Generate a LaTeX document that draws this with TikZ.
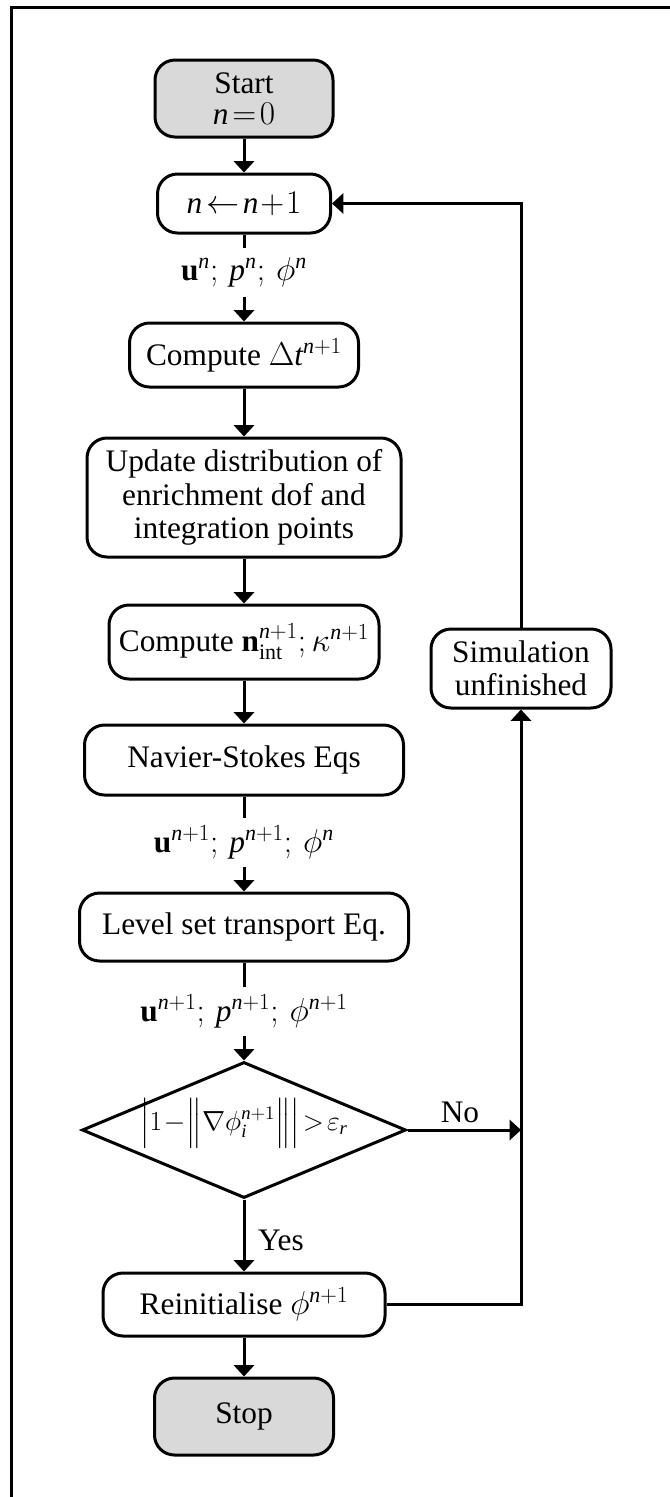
\documentclass[tikz,border=0pt]{standalone}
\usepackage{amsmath}
\usepackage{fontspec}
\setmainfont{Liberation Serif}
\usetikzlibrary{arrows.meta,shapes.geometric}
\definecolor{termgray}{RGB}{217,217,217}
% italic Latin letters in formulas, set in the text face
\newcommand{\iv}[1]{\textit{#1}}
% tighter spacing around math operators and relations
\medmuskip=1mu
\thickmuskip=2mu

\begin{document}
\begin{tikzpicture}[x=0.75pt,y=-0.75pt,
  every node/.style={font=\fontsize{23.5}{25}\selectfont},
  box/.style={draw, line width=2.25pt, rounded corners=15pt, align=center, inner sep=0pt},
  term/.style={box, fill=termgray},
  test/.style={draw, line width=2.25pt, shape=diamond, inner sep=0pt,
               minimum width=243pt, minimum height=102pt},
  flow/.style={line width=2.25pt, -{Triangle[width=15pt,length=8.5pt]}},
  link/.style={line width=2.25pt},
  vars/.style={inner sep=0pt, minimum height=37pt},
  tag/.style={inner sep=0pt},
]
\useasboundingbox (0,0) rectangle (670,1497);

% frame
\draw[line width=2.25pt] (672,7.5) -- (11.5,7.5) -- (11.5,1500);

% main column
\node[term, minimum width=133.5pt, minimum height=57.75pt] (start) at (244,98.5)
  {Start\\[-2pt] $\iv{n}=0$};
\node[box, minimum width=129.75pt, minimum height=44.25pt] (inc) at (244,203.5)
  {$\iv{n}\leftarrow \iv{n}+1$};
\node[vars] (v1) at (244,272.5)
  {$\mathbf{u}^{\iv{n}};\,\iv{p}^{\iv{n}};\,\phi^{\iv{n}}$};
\node[box, minimum width=171.75pt, minimum height=48pt] (dt) at (244,355)
  {Compute $\Delta \iv{t}^{\iv{n}+1}$};
\node[box, minimum width=235.5pt, minimum height=89.25pt] (upd) at (244,497.5)
  {Update distribution of\\ enrichment dof and\\ integration points};
\node[box, minimum width=202.5pt, minimum height=55.5pt] (nint) at (244,642)
  {Compute $\mathbf{n}_{\mathrm{int}}^{\iv{n}+1};\kappa^{\iv{n}+1}$};
\node[box, minimum width=239.25pt, minimum height=52.5pt] (ns) at (244,760)
  {Navier-Stokes Eqs};
\node[vars] (v2) at (244,842.5)
  {$\mathbf{u}^{\iv{n}+1};\,\iv{p}^{\iv{n}+1};\,\phi^{\iv{n}}$};
\node[box, minimum width=246.75pt, minimum height=51pt] (ls) at (244,927)
  {Level set transport Eq.};
\node[vars] (v3) at (244,1011.5)
  {$\mathbf{u}^{\iv{n}+1};\,\iv{p}^{\iv{n}+1};\,\phi^{\iv{n}+1}$};
% the test: the outline keeps its own size, the formula is centred inside it
\node[test] (dia) at (244,1130)
  {\makebox[0pt]{\smash{\fontsize{20}{22}\selectfont
   $\Bigl|1-\Bigl\|\nabla\phi_{\iv{i}}^{\iv{n}+1}\Bigr\|\Bigr|>\varepsilon_{\iv{r}}$}}};
\node[box, minimum width=211.5pt, minimum height=47.25pt] (rein) at (244,1304.5)
  {Reinitialise $\phi^{\iv{n}+1}$};
\node[term, minimum width=134.25pt, minimum height=57.75pt] (stop) at (244,1416.5)
  {Stop};

% loop-back column
\node[box, minimum width=135pt, minimum height=59.25pt] (sim) at (521,668.5)
  {Simulation\\ unfinished};
\coordinate (rc) at (521,1304.5);
\coordinate (nc) at (521,1130);
\coordinate (tc) at (521,203.5);

% branch labels
\node[tag] (no) at (460,1112) {No};
\node[tag] (yes) at (281,1240) {Yes};

% connectors
\draw[flow] (start) -- (inc);
\draw[link] (inc) -- (v1);
\draw[flow] (v1) -- (dt);
\draw[flow] (dt) -- (upd);
\draw[flow] (upd) -- (nint);
\draw[flow] (nint) -- (ns);
\draw[link] (ns) -- (v2);
\draw[flow] (v2) -- (ls);
\draw[link] (ls) -- (v3);
\draw[flow] (v3) -- (dia);
\draw[flow] (dia) -- (rein);
\draw[flow] (rein) -- (stop);
\draw[flow] (dia.east) -- (nc);
\draw[flow] (rein.east) -- (rc) -- (sim.south);
\draw[flow] (sim.north) -- (tc) -- (inc.east);
\end{tikzpicture}
\end{document}
